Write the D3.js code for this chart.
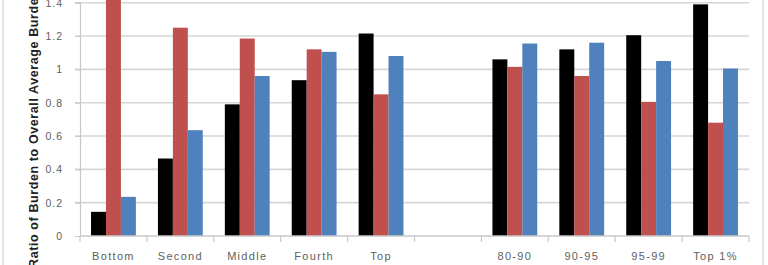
<!DOCTYPE html>
<html><head><meta charset="utf-8">
<script src="https://cdn.jsdelivr.net/npm/d3@7"></script>
<style>body{margin:0;background:#fff;}svg{display:block;}</style>
</head><body>
<svg id="c" width="768" height="265"></svg>
<script>
const categories = ["Bottom","Second","Middle","Fourth","Top","","80-90","90-95","95-99","Top 1%"];
const seriesA = [0.145, 0.465, 0.79, 0.935, 1.215, null, 1.06, 1.12, 1.205, 1.39];
const seriesB = [1.46, 1.25, 1.185, 1.12, 0.85, null, 1.015, 0.96, 0.805, 0.68];
const seriesC = [0.235, 0.635, 0.96, 1.105, 1.08, null, 1.155, 1.16, 1.05, 1.005];
const yTicks = [0, 0.2, 0.4, 0.6, 0.8, 1, 1.2, 1.4];
const yTickLabels = ["0","0.2","0.4","0.6","0.8","1","1.2","1.4"];
const seriesNames = ["A","B","C"];
const colors = ["#000000","#c0504d","#4f81bd"];

(function(){
const svg = d3.select("#c");
const pLeft = 80, pRight = 749, pTop = 2.7, pBottom = 236;
const font = "Liberation Sans, Arial, sans-serif";

svg.append("rect").attr("x",3).attr("y",-5).attr("width",760).attr("height",280)
  .attr("fill","none").attr("stroke","#d0d0d0").attr("stroke-width",1.2);

const y = d3.scaleLinear().domain([0,1.4]).range([pBottom, pTop]);
const x0 = d3.scaleBand().domain(categories.map((c,i)=>i)).range([pLeft,pRight])
  .paddingInner(0.33).paddingOuter(0.165);
const x1 = d3.scaleBand().domain(seriesNames).range([0, x0.bandwidth()]);

svg.append("g").selectAll("line").data(yTicks.slice(1)).join("line")
  .attr("x1",pLeft-5).attr("x2",pRight).attr("y1",d=>y(d)).attr("y2",d=>y(d))
  .attr("stroke","#d6d6d6").attr("stroke-width",1.6);

const yAxis = d3.axisLeft(y).tickValues(yTicks).tickFormat((d,i)=>yTickLabels[i]).tickSize(5).tickPadding(12);
const gy = svg.append("g").attr("transform",`translate(${pLeft},0)`).call(yAxis);
gy.select(".domain").attr("stroke","#c8c8c8").attr("stroke-width",1.2);
gy.selectAll(".tick line").attr("stroke","#c8c8c8");
gy.selectAll("text").attr("fill","#606060").style("font-family",font).style("font-size","10.5px").style("letter-spacing","1px");

const data = categories.map((c,i)=>({i, vals:[seriesA[i],seriesB[i],seriesC[i]]}));
const groups = svg.append("g").selectAll("g").data(data).join("g")
  .attr("transform",d=>`translate(${x0(d.i)},0)`);
groups.selectAll("rect").data(d=>d.vals.map((v,k)=>({v,k})).filter(e=>e.v!=null)).join("rect")
  .attr("x",e=>x1(seriesNames[e.k])).attr("width",x1.bandwidth())
  .attr("y",e=>y(e.v)).attr("height",e=>pBottom-y(e.v))
  .attr("fill",e=>colors[e.k]);

const step = x0.step();
const gx = svg.append("g").attr("transform",`translate(0,${pBottom})`);
gx.append("line").attr("x1",pLeft).attr("x2",pRight).attr("stroke","#c8c8c8").attr("stroke-width",1.5);
const bounds = d3.range(categories.length+1).map(i=> i<categories.length ? x0(i) - x0.paddingOuter()*step : pRight);
gx.selectAll(".tk").data(bounds).join("line").attr("class","tk")
  .attr("x1",d=>d).attr("x2",d=>d).attr("y1",0).attr("y2",6).attr("stroke","#c8c8c8").attr("stroke-width",1.2);
gx.selectAll("text").data(categories).join("text")
  .attr("x",(d,i)=>x0(i)+x0.bandwidth()/2).attr("y",24)
  .attr("text-anchor","middle").attr("fill","#606060")
  .style("font-family",font).style("font-size","11px").style("letter-spacing","1.3px")
  .text(d=>d);

svg.append("text").attr("transform","translate(38,268) rotate(-90)")
  .attr("text-anchor","start").attr("fill","#222")
  .style("font-family",font).style("font-size","12.5px").style("font-weight","bold").style("letter-spacing","0.6px")
  .text("Ratio of  Burden to Overall Average Burden");
})();
</script>
</body></html>
